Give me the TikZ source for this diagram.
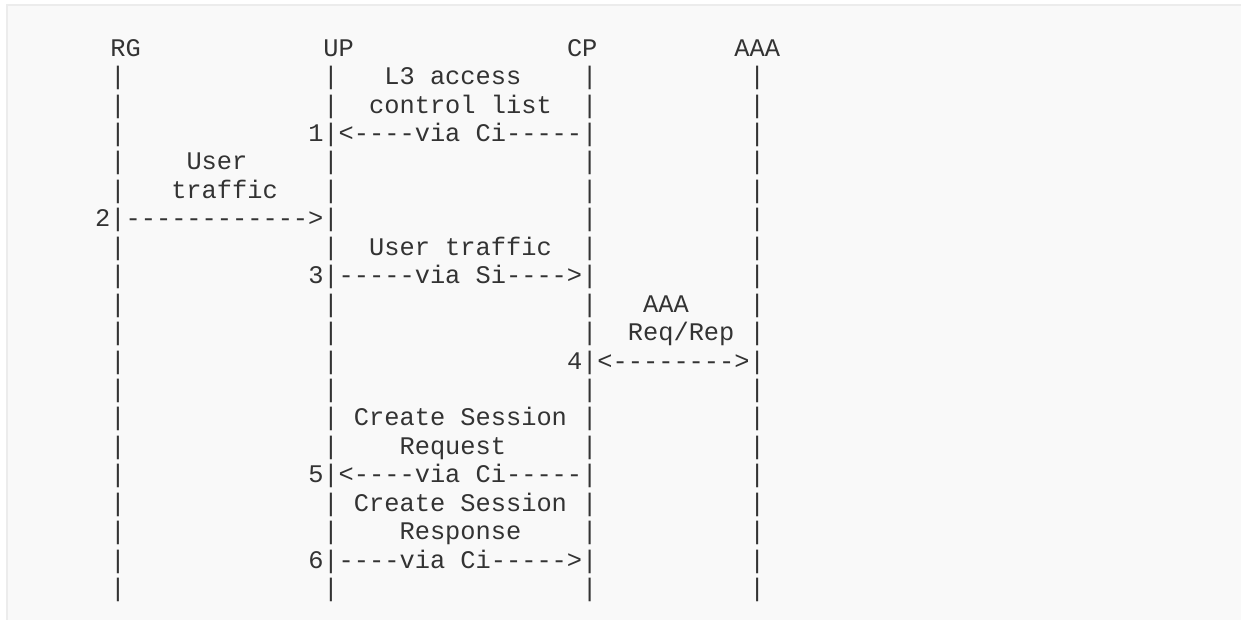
\documentclass[tikz,border=0pt]{standalone}
\usepackage{xcolor}
\usepackage{fontspec}
\setmonofont{Liberation Mono}[Ligatures=ResetAll]
\usepackage{tikz}

\definecolor{boxfill}{HTML}{F9F9F9}
\definecolor{boxline}{HTML}{ECECEC}
\definecolor{ink}{HTML}{333333}

\begin{document}
\begin{tikzpicture}
                    [
                        x=7.61pt, y=-14.22pt,
                        every node/.style={font=\ttfamily\fontsize{12.68pt}{15pt}\selectfont, text=ink, inner sep=0pt, anchor=base west}
                    ]

                    % Hintergrund
                    \useasboundingbox (0pt,0pt) rectangle (620.5pt,-310pt);
                    \clip (0pt,0pt) rectangle (620.5pt,-310pt);
                    \draw[draw=boxline, fill=boxfill, line width=0.75pt] (3.5pt,-2.5pt) rectangle (640pt,-330pt);

                    \begin{scope}[xshift=55pt, yshift=-28.1pt]
                        % Kopf
                        \node (RG) at (0,0) {RG};
                        \node (UP) at (14,0) {UP};
                        \node (CP) at (30,0) {CP};
                        \node (AAA) at (41,0) {AAA};

                        % Lebenslinien
                        \foreach \c/\n in {0/rg,14/up,31/cp,42/aaa}
                            \foreach \r in {1,...,19}
                                \node (\n-\r) at (\c,\r) {|};

                        % 1
                        \node (acl1) at (18,1) {L3 access};
                        \node (acl2) at (17,2) {control list};
                        \node (n1) at (13,3) {1};
                        \node (m1) at (15,3) {<----via Ci-----};

                        % 2
                        \node (ut1) at (5,4) {User};
                        \node (ut2) at (4,5) {traffic};
                        \node (n2) at (-1,6) {2};
                        \node (m2) at (1,6) {------------>};

                        % 3
                        \node (ut3) at (17,7) {User traffic};
                        \node (n3) at (13,8) {3};
                        \node (m3) at (15,8) {-----via Si---->};

                        % 4
                        \node (aaa1) at (35,9) {AAA};
                        \node (aaa2) at (34,10) {Req/Rep};
                        \node (n4) at (30,11) {4};
                        \node (m4) at (32,11) {<-------->};

                        % 5
                        \node (cs1) at (16,13) {Create Session};
                        \node (cs2) at (19,14) {Request};
                        \node (n5) at (13,15) {5};
                        \node (m5) at (15,15) {<----via Ci-----};

                        % 6
                        \node (cs3) at (16,16) {Create Session};
                        \node (cs4) at (19,17) {Response};
                        \node (n6) at (13,18) {6};
                        \node (m6) at (15,18) {----via Ci----->};
                    \end{scope}
                \end{tikzpicture}
\end{document}
